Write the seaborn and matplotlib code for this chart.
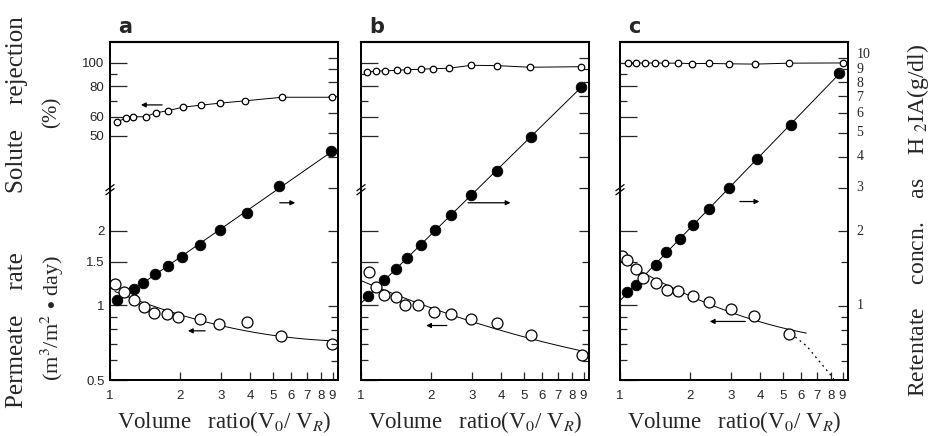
import numpy as np
import matplotlib
matplotlib.use("Agg")
import matplotlib.pyplot as plt
from matplotlib.ticker import FixedLocator, NullFormatter
import seaborn as sns

# values (x = volume ratio V0/VR)
a_rej_x = [1.07, 1.17, 1.26, 1.42, 1.57, 1.77, 2.05, 2.46, 2.97, 3.80, 5.46, 8.94]
a_rej = [57.3, 59.1, 60.0, 60.0, 62.3, 63.5, 65.7, 67.0, 68.3, 69.8, 72.2, 72.2]
a_ret_x = [1.07, 1.27, 1.38, 1.56, 1.78, 2.03, 2.44, 2.97, 3.85, 5.31, 8.88]
a_ret = [1.05, 1.17, 1.23, 1.34, 1.45, 1.57, 1.76, 2.02, 2.37, 3.03, 4.19]
a_perm_x = [1.05, 1.15, 1.27, 1.40, 1.54, 1.75, 1.95, 2.43, 2.94, 3.85, 5.42, 8.94]
a_perm = [1.22, 1.13, 1.05, 0.99, 0.93, 0.92, 0.90, 0.88, 0.84, 0.86, 0.75, 0.70]

b_rej_x = [1.06, 1.16, 1.27, 1.43, 1.58, 1.80, 2.03, 2.39, 2.97, 3.82, 5.30, 8.80]
b_rej = [91.5, 92.7, 92.7, 93.3, 93.8, 94.2, 94.7, 95.1, 97.8, 97.5, 96.0, 96.5]
b_ret_x = [1.07, 1.26, 1.41, 1.58, 1.81, 2.08, 2.43, 2.97, 3.82, 5.36, 8.80]
b_ret = [1.09, 1.27, 1.40, 1.56, 1.76, 2.01, 2.31, 2.80, 3.51, 4.80, 7.66]
b_perm_x = [1.08, 1.16, 1.26, 1.41, 1.55, 1.76, 2.05, 2.43, 2.96, 3.82, 5.37, 8.86]
b_perm = [1.37, 1.19, 1.10, 1.08, 1.00, 1.00, 0.94, 0.92, 0.88, 0.85, 0.76, 0.63]

c_rej_x = [1.08, 1.17, 1.28, 1.41, 1.56, 1.78, 2.03, 2.41, 2.94, 3.80, 5.33, 9.00]
c_rej = [100.0, 100.0, 99.8, 100.0, 99.8, 99.8, 99.4, 99.5, 99.2, 98.9, 99.8, 100.0]
c_ret_x = [1.07, 1.17, 1.42, 1.57, 1.81, 2.06, 2.41, 2.94, 3.86, 5.42, 8.73]
c_ret = [1.13, 1.21, 1.46, 1.65, 1.85, 2.11, 2.46, 2.98, 3.91, 5.37, 8.72]
c_perm_x = [1.02, 1.07, 1.17, 1.26, 1.42, 1.59, 1.78, 2.06, 2.41, 2.98, 3.74, 5.31]
c_perm = [1.59, 1.53, 1.40, 1.29, 1.23, 1.16, 1.14, 1.09, 1.03, 0.97, 0.91, 0.77]
c_drop_x = [5.40, 5.81, 6.33, 6.86, 7.45, 7.96, 8.25]
c_drop = [0.77, 0.73, 0.685, 0.624, 0.569, 0.527, 0.505]

x_ticks = [1, 2, 3, 4, 5, 6, 7, 8, 9]
perm_ticks = [0.5, 1, 1.5, 2]
perm_labels = ["0.5", "1", "1.5", "2"]
perm_minor = [0.6, 0.7, 0.8, 0.9]
ret_ticks = [1, 2, 3, 4, 5, 6, 7, 8, 9, 10]
ret_minor = [0.6, 0.7, 0.8, 0.9, 1.5]
rej_ticks = [50, 60, 80, 100]
rej_minor = [70, 90]

sns.set_style("ticks")
plt.rcParams['font.family'] = ['Liberation Serif', 'DejaVu Serif']
plt.rcParams['mathtext.fontset'] = 'stix'

fig = plt.figure(figsize=(9.4, 4.36), dpi=100)

W, H = 940, 436
panel_left = [110, 361, 620]
panel_w = 228
top_px, bot_px = 42, 380
tick_font = {'family': 'Liberation Sans', 'size': 9.5}
# small vertical nudges (points) so the crowded right labels 10/9/8 don't collide
ret_nudge = {10: 2.5, 8: -1.0, 7: -1.0}


def log_fit(x, y, deg, x0, x1):
    c = np.polyfit(np.log10(x), np.log10(y), deg)
    xs = np.logspace(np.log10(x0), np.log10(x1), 100)
    return xs, 10 ** np.polyval(c, np.log10(xs))


def panel(i, letter, rej_x, rej, ret_x, ret, perm_x, perm, perm_end, arrows, drop=None):
    rect = [panel_left[i] / W, (H - bot_px) / H, panel_w / W, (bot_px - top_px) / H]
    ax = fig.add_axes(rect)
    ax_r = ax.twinx()
    ax_s = ax.twinx()
    ax_s.yaxis.tick_left()

    for a in (ax, ax_r):
        a.set_yscale('log')
        a.set_ylim(0.503, 11.6)
    ax_s.set_yscale('log')
    ax_s.set_ylim(4.93, 122)
    ax.set_xscale('log')
    ax.set_xlim(1, 9.5)

    # solute rejection
    sns.lineplot(x=rej_x, y=rej, ax=ax_s, color='black', lw=0.7, sort=True)
    sns.scatterplot(x=rej_x, y=rej, ax=ax_s, s=22, facecolor='white',
                    edgecolor='black', linewidth=0.9, zorder=5)

    # retentate concentration
    x0 = ret_x[0] if i == 0 else 1.0
    xs, ys = log_fit(ret_x, ret, 1, x0, ret_x[-1])
    ax.plot(xs, ys, color='black', lw=0.7)
    sns.scatterplot(x=ret_x, y=ret, ax=ax, s=58, color='black',
                    edgecolor='black', zorder=5)

    # permeate rate
    x0 = perm_x[0] if i == 0 else 1.0
    xs, ys = log_fit(perm_x, perm, 2, x0, perm_end)
    ax.plot(xs, ys, color='black', lw=0.7)
    if drop is not None:
        ax.plot(drop[0], drop[1], color='black', lw=0.9, ls=(0, (1.5, 3)))
    sns.scatterplot(x=perm_x, y=perm, ax=ax, s=62, facecolor='white',
                    edgecolor='black', linewidth=0.9, zorder=6)

    for (xa, xb, ya, direction) in arrows:
        if direction == 'left':
            st, en = (xb, ya), (xa, ya)
        else:
            st, en = (xa, ya), (xb, ya)
        ax.annotate('', xy=en, xytext=st,
                    arrowprops=dict(arrowstyle='-|>', lw=0.9, color='black',
                                    mutation_scale=7))

    # ticks
    ax.set_xticks(x_ticks)
    ax.xaxis.set_minor_locator(FixedLocator([]))
    ax.set_xticklabels([str(t) for t in x_ticks], fontdict=tick_font)
    ax.tick_params(axis='x', direction='in', length=6, width=0.9, pad=7)

    ax.set_yticks(perm_ticks)
    ax.yaxis.set_minor_locator(FixedLocator(perm_minor))
    ax.yaxis.set_minor_formatter(NullFormatter())
    ax.set_yticklabels(perm_labels if i == 0 else [], fontdict=tick_font)
    ax.tick_params(axis='y', which='major', direction='in', length=12,
                   width=0.9, pad=4)
    ax.tick_params(axis='y', which='minor', direction='in', length=5, width=0.9)

    ax_r.set_yticks(ret_ticks)
    ax_r.yaxis.set_minor_locator(FixedLocator(ret_minor))
    ax_r.yaxis.set_minor_formatter(NullFormatter())
    ax_r.set_yticklabels([])
    ax_r.tick_params(axis='y', which='major', direction='in', length=7, width=0.9)
    ax_r.tick_params(axis='y', which='minor', direction='in', length=5, width=0.9)
    if i == 2:
        for t in ret_ticks:
            ax_r.annotate(str(t), xy=(1, t), xycoords=('axes fraction', 'data'),
                          xytext=(6, ret_nudge.get(t, 0)), textcoords='offset points',
                          ha='left', va='center', fontsize=10)

    ax_s.set_yticks(rej_ticks)
    ax_s.yaxis.set_minor_locator(FixedLocator(rej_minor))
    ax_s.yaxis.set_minor_formatter(NullFormatter())
    ax_s.set_yticklabels([str(t) for t in rej_ticks] if i == 0 else [],
                         fontdict=tick_font)
    ax_s.tick_params(axis='y', which='major', direction='in', length=12,
                     width=0.9, pad=4)
    ax_s.tick_params(axis='y', which='minor', direction='in', length=5, width=0.9)
    ax_s.set_ylabel('')
    ax_r.set_ylabel('')

    for a in (ax, ax_r, ax_s):
        for sp in a.spines.values():
            sp.set_linewidth(1.2)
            sp.set_color('black')
    ax.spines['top'].set_linewidth(1.6)
    ax.spines['top'].set_color('#555555')

    # axis break mark on the left spine
    for dy in (0.0, 0.012):
        ax.plot([-0.018, 0.018], [0.548 + dy, 0.566 + dy], transform=ax.transAxes,
                color='black', lw=0.9, clip_on=False)

    ax.text(0.035, 1.015, letter, transform=ax.transAxes, fontsize=15,
            fontweight='bold', family='DejaVu Sans', va='bottom', ha='left')
    ax.set_xlabel(r'Volume   ratio(V$_0$/ V$_R$)', fontsize=16.5, labelpad=5)
    return ax


panel(0, 'a', a_rej_x, a_rej, a_ret_x, a_ret, a_perm_x, a_perm, a_perm_x[-1],
      [(1.32, 1.72, 6.46, 'left'), (5.2, 6.4, 2.6, 'right'), (2.1, 2.63, 0.79, 'left')])
panel(1, 'b', b_rej_x, b_rej, b_ret_x, b_ret, b_perm_x, b_perm, b_perm_x[-1],
      [(2.8, 4.5, 2.6, 'right'), (1.85, 2.4, 0.83, 'left')])
panel(2, 'c', c_rej_x, c_rej, c_ret_x, c_ret, c_perm_x, c_perm, 6.3,
      [(3.18, 4.07, 2.63, 'right'), (2.36, 3.54, 0.862, 'left')],
      drop=(c_drop_x, c_drop))

fig.text(17 / W, 1 - 105 / H, 'Solute    rejection', rotation=90, fontsize=18,
         ha='center', va='center')
fig.text(52 / W, 1 - 112 / H, '(%)', rotation=90, fontsize=15,
         ha='center', va='center')
fig.text(17 / W, 1 - 330 / H, 'Permeate    rate', rotation=90, fontsize=18,
         ha='center', va='center')
fig.text(52 / W, 1 - 318 / H, '(m$^3$/m$^2$ $\\bullet$ day)', rotation=90,
         fontsize=16, ha='center', va='center')
fig.text(918 / W, 1 - 44 / H, 'Retentate    concn.    as    H $_2$IA(g/dl)',
         rotation=90, fontsize=17, ha='center', va='top')

fig.savefig('out.png', dpi=100)
